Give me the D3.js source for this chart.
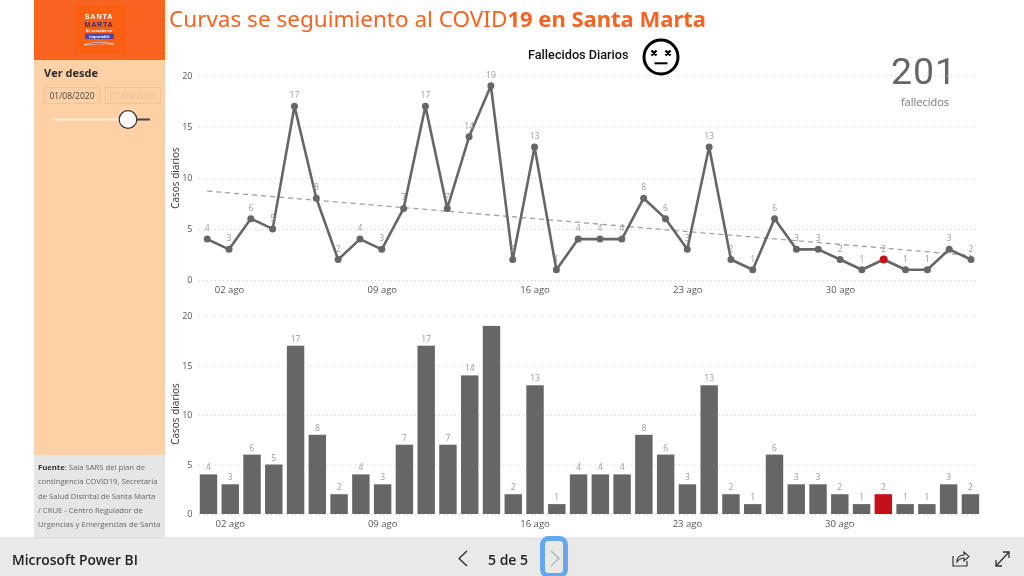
<!DOCTYPE html>
<html>
<head>
<meta charset="utf-8">
<script src="https://cdn.jsdelivr.net/npm/d3@7"></script>
<style>
  html, body { margin: 0; padding: 0; background: #fff; overflow: hidden; }
  svg { display: block; will-change: transform; }
  text { font-family: "Open Sans", sans-serif; }
</style>
</head>
<body>
<div class="chart"></div>
<script>
const days = ["01 ago","02 ago","03 ago","04 ago","05 ago","06 ago","07 ago","08 ago","09 ago","10 ago",
  "11 ago","12 ago","13 ago","14 ago","15 ago","16 ago","17 ago","18 ago","19 ago","20 ago","21 ago",
  "22 ago","23 ago","24 ago","25 ago","26 ago","27 ago","28 ago","29 ago","30 ago","31 ago",
  "01 sep","02 sep","03 sep","04 sep","05 sep"];
const deaths = [4,3,6,5,17,8,2,4,3,7,17,7,14,19,2,13,1,4,4,4,8,6,3,13,2,1,6,3,3,2,1,2,1,1,3,2];
const trend = [8.7, 2.4];
const xTicks = ["02 ago","09 ago","16 ago","23 ago","30 ago"];
const yTicks = [0,5,10,15,20];
const highlightDay = "01 sep";
const sourceLines = [
  "contingencia COVID19, Secretaría",
  "de Salud Distrital de Santa Marta",
  "/ CRUE - Centro Regulador de",
  "Urgencias y Emergencias de Santa"
];

const svg = d3.select(".chart").append("svg")
  .attr("width", 1024)
  .attr("height", 576);

const grey = "#666666";
const labelGrey = "#9a9a9a";
const red = "#c4101a";

// side panel
svg.append("rect").attr("x", 34).attr("y", 0).attr("width", 131).attr("height", 60).attr("fill", "#f96322");
svg.append("rect").attr("x", 34).attr("y", 60).attr("width", 131).attr("height", 395).attr("fill", "#fdd0a6");
svg.append("rect").attr("x", 34).attr("y", 455).attr("width", 131).attr("height", 83).attr("fill", "#e6e6e6");
svg.append("rect").attr("x", 165).attr("y", 0).attr("width", 3).attr("height", 60).attr("fill", "#fff3e4");

// logo
const logo = svg.append("g").attr("text-anchor", "middle");
logo.append("rect").attr("x", 75).attr("y", 5).attr("width", 51).attr("height", 48).attr("fill", "#fb5f12");
logo.append("text").attr("x", 99).attr("y", 19).attr("font-size", 7.2).attr("font-weight", 700)
  .style("font-family", "'Liberation Sans'").style("letter-spacing", "0.9px").attr("fill", "#fff").text("SANTA");
logo.append("text").attr("x", 99).attr("y", 27.2).attr("font-size", 7.2).attr("font-weight", 700)
  .style("font-family", "'Liberation Sans'").style("letter-spacing", "0.7px").attr("fill", "#3b2f78").text("MARTA");
logo.append("text").attr("x", 99).attr("y", 32.4).attr("font-size", 4).attr("font-weight", 600)
  .style("font-family", "'Liberation Sans'").attr("fill", "#fff").text("El corazón es");
logo.append("rect").attr("x", 85).attr("y", 33.5).attr("width", 29).attr("height", 5.5).attr("fill", "#4c46a8");
logo.append("text").attr("x", 99.5).attr("y", 37.8).attr("font-size", 4).attr("font-weight", 600)
  .style("font-family", "'Liberation Sans'").attr("fill", "#fff").text("importable");
logo.append("path").attr("d", "M84 45 Q98 40 114 44 Q98 43 84 45Z").attr("fill", "#3b2f78").attr("stroke", "#fff").attr("stroke-width", 0.6);

// date filter
svg.append("text").attr("x", 44).attr("y", 77).attr("font-size", 11).attr("font-weight", 700).attr("fill", "#2b2b2b").text("Ver desde");
svg.append("rect").attr("x", 44.5).attr("y", 87.5).attr("width", 55).attr("height", 16).attr("fill", "none").attr("stroke", "#f3c193");
svg.append("rect").attr("x", 105.5).attr("y", 87.5).attr("width", 55).attr("height", 16).attr("fill", "none").attr("stroke", "#f3c193");
svg.append("text").attr("x", 72).attr("y", 99).attr("text-anchor", "middle").attr("font-size", 8.5).attr("fill", "#444").text("01/08/2020");
svg.append("text").attr("x", 133).attr("y", 99).attr("text-anchor", "middle").attr("font-size", 8.5).attr("fill", "#f2bd8d").text("07/09/2020");
svg.append("line").attr("x1", 53).attr("x2", 128).attr("y1", 119.5).attr("y2", 119.5).attr("stroke", "#fdeee0").attr("stroke-width", 2);
svg.append("line").attr("x1", 128).attr("x2", 150).attr("y1", 119.5).attr("y2", 119.5).attr("stroke", "#444").attr("stroke-width", 2);
svg.append("circle").attr("cx", 128).attr("cy", 119.5).attr("r", 8.8).attr("fill", "#fff").attr("stroke", "#333").attr("stroke-width", 1.2);

// source note
const note = svg.append("g").attr("font-size", 7.7).attr("fill", "#666");
const firstLine = note.append("text").attr("x", 38).attr("y", 470);
firstLine.append("tspan").attr("font-weight", 700).attr("fill", "#333").text("Fuente");
firstLine.append("tspan").text(": Sala SARS del plan de");
note.selectAll(".src").data(sourceLines).enter().append("text")
  .attr("class", "src")
  .attr("x", 38)
  .attr("y", (d, i) => 484.3 + i * 14.2)
  .text(d => d);

// titles
const title = svg.append("text").attr("x", 169).attr("y", 27).attr("fill", "#f96322")
  .style("font-family", "'Noto Sans', sans-serif");
title.append("tspan").attr("font-size", 22.5).text("Curvas se seguimiento al COVID");
title.append("tspan").attr("font-size", 22).attr("font-weight", 700).text("19 en Santa Marta");
svg.append("text").attr("x", 528).attr("y", 59).attr("font-size", 12.7).attr("font-weight", 500).attr("fill", "#111")
  .style("font-family", "Roboto").text("Fallecidos Diarios");

// face icon
const face = svg.append("g").attr("transform", "translate(661,57)").attr("stroke", "#000").attr("fill", "none");
face.append("circle").attr("r", 17).attr("stroke-width", 3).attr("fill", "#fff");
face.append("path").attr("stroke-width", 2.4).attr("d", "M-9.5,-6.5 L-4.5,-1.5 M-4.5,-6.5 L-9.5,-1.5 M4.5,-6.5 L9.5,-1.5 M9.5,-6.5 L4.5,-1.5");
face.append("path").attr("stroke-width", 2).attr("d", "M-6.5,6.3 H6.5");

// KPI
svg.append("text").attr("x", 924).attr("y", 83.5).attr("text-anchor", "middle").attr("font-size", 37.5).attr("fill", grey)
  .style("letter-spacing", "1px").style("font-family", "Roboto").text("201");
svg.append("text").attr("x", 925).attr("y", 106).attr("text-anchor", "middle").attr("font-size", 11).attr("fill", "#777").text("fallecidos");

// scales
const xLine = d3.scalePoint().domain(days).range([207.2, 971]);
const xBar = d3.scaleBand().domain(days).range([197.6, 981.3]).paddingInner(0.2).paddingOuter(0.1);
const barMid = d => xBar(d) + xBar.bandwidth() / 2;
const yLine = d3.scaleLinear().domain([0, 20]).range([280, 75.5]);
const yBar = d3.scaleLinear().domain([0, 20]).range([514, 316]);

function drawAxes(x, y, centerY) {
  const left = svg.append("g").attr("transform", "translate(199,0)")
    .call(d3.axisLeft(y).tickValues(yTicks).tickSize(-780).tickPadding(6.5));
  left.select(".domain").remove();
  left.selectAll("line").attr("stroke", "#cfcfcf").attr("stroke-dasharray", "1,3");
  left.selectAll("text").attr("fill", "#555").attr("font-size", 9).style("font-family", "'Open Sans'");

  const bottom = svg.append("g").attr("transform", `translate(0,${y(0)})`)
    .call(d3.axisBottom(x).tickValues(xTicks).tickSize(0).tickPadding(6));
  bottom.select(".domain").remove();
  bottom.selectAll("text").attr("fill", "#555").attr("font-size", 9.5).style("font-family", "'Open Sans'");

  svg.append("text")
    .attr("transform", `translate(179,${centerY}) rotate(-90)`)
    .attr("text-anchor", "middle")
    .attr("font-size", 10)
    .attr("font-weight", 500)
    .attr("fill", "#333")
    .text("Casos diarios");
}
drawAxes(xLine, yLine, 178);
drawAxes(xBar, yBar, 414);

// line chart
svg.append("line")
  .attr("x1", xLine(days[0])).attr("x2", xLine(days[days.length - 1]))
  .attr("y1", yLine(trend[0])).attr("y2", yLine(trend[1]))
  .attr("stroke", "#a0a0a0").attr("stroke-width", 1.3).attr("stroke-dasharray", "5,4");

const rows = days.map((d, i) => ({ day: d, value: deaths[i] }));
svg.append("path").datum(rows)
  .attr("fill", "none").attr("stroke", grey).attr("stroke-width", 2.6).attr("stroke-linejoin", "round")
  .attr("d", d3.line().x(d => xLine(d.day)).y(d => yLine(d.value)));
svg.selectAll(".dot").data(rows).enter().append("circle")
  .attr("class", "dot")
  .attr("cx", d => xLine(d.day))
  .attr("cy", d => yLine(d.value))
  .attr("r", d => d.day === highlightDay ? 4 : 3.5)
  .attr("fill", d => d.day === highlightDay ? red : grey);
svg.selectAll(".dotLabel").data(rows).enter().append("text")
  .attr("class", "dotLabel")
  .attr("x", d => xLine(d.day))
  .attr("y", d => yLine(d.value) - 8)
  .attr("text-anchor", "middle")
  .attr("font-size", 8.5)
  .attr("fill", labelGrey)
  .text(d => d.value);

// bar chart
svg.selectAll(".bar").data(rows).enter().append("rect")
  .attr("class", "bar")
  .attr("x", d => xBar(d.day))
  .attr("y", d => yBar(d.value))
  .attr("width", xBar.bandwidth())
  .attr("height", d => yBar(0) - yBar(d.value))
  .attr("fill", d => d.day === highlightDay ? red : grey);
svg.selectAll(".barLabel").data(rows.filter(d => d.value < 19)).enter().append("text")
  .attr("class", "barLabel")
  .attr("x", d => barMid(d.day))
  .attr("y", d => yBar(d.value) - 4)
  .attr("text-anchor", "middle")
  .attr("font-size", 8.5)
  .attr("fill", labelGrey)
  .text(d => d.value);

// Power BI footer
svg.append("rect").attr("x", 0).attr("y", 538).attr("width", 1024).attr("height", 38).attr("fill", "#e9e9e9");
svg.append("line").attr("x1", 0).attr("x2", 1024).attr("y1", 538).attr("y2", 538).attr("stroke", "#dcdcdc");
svg.append("text").attr("x", 12).attr("y", 565).attr("font-size", 13.8).attr("font-weight", 600).attr("fill", "#222").text("Microsoft Power BI");
svg.append("text").attr("x", 488).attr("y", 565).attr("font-size", 14).attr("font-weight", 600).attr("fill", "#222").text("5 de 5");
svg.append("path").attr("d", "M467 551 L459 558.5 L467 566").attr("fill", "none").attr("stroke", "#333").attr("stroke-width", 1.4);
svg.append("rect").attr("x", 542.5).attr("y", 538.5).attr("width", 23).attr("height", 37).attr("rx", 6)
  .attr("fill", "#e9e9e9").attr("stroke", "#66a8ee").attr("stroke-width", 5);
svg.append("path").attr("d", "M551 551 L559 558.5 L551 566").attr("fill", "none").attr("stroke", "#b5b5b5").attr("stroke-width", 1.4);
svg.append("path").attr("d", "M953 556 V566 H967 V561 M957 562 Q957 555 964 555 V552 L969 556.5 L964 561 V558 Q960 558 957 562Z")
  .attr("fill", "none").attr("stroke", "#333").attr("stroke-width", 1.2);
svg.append("path").attr("d", "M996 566 L1009 552 M1003 552 H1009 V558 M996 560 V566 H1002")
  .attr("fill", "none").attr("stroke", "#333").attr("stroke-width", 1.3);
</script>
</body>
</html>
